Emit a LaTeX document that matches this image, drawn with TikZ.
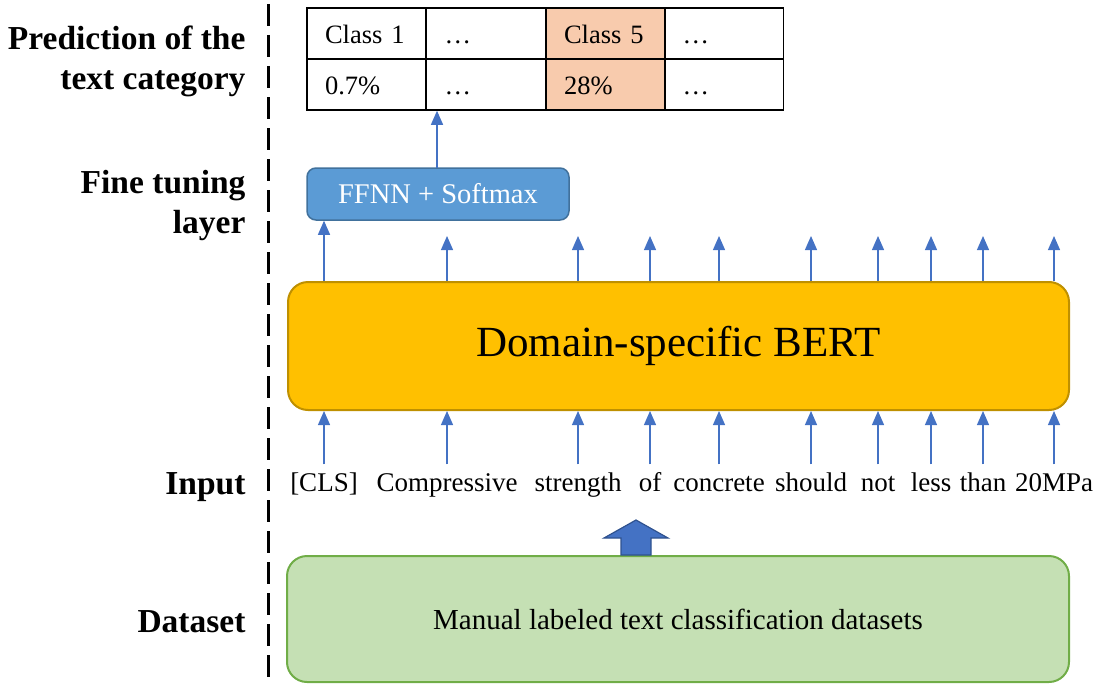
\documentclass[tikz,border=0pt]{standalone}
\usepackage{fontspec}
\setmainfont{Liberation Serif}
\usetikzlibrary{arrows.meta}
\definecolor{arrblue}{HTML}{4472C4}
\definecolor{arrdark}{HTML}{2F528F}
\definecolor{ffnnfill}{HTML}{5B9BD5}
\definecolor{ffnndraw}{HTML}{41719C}
\definecolor{bertfill}{HTML}{FFC000}
\definecolor{bertdraw}{HTML}{BF9000}
\definecolor{datafill}{HTML}{C5E0B4}
\definecolor{datadraw}{HTML}{70AD47}
\definecolor{peach}{HTML}{F8CBAD}
\tikzset{
  cell/.style={draw, line width=1.5pt, minimum width=119pt, minimum height=51pt,
    text width=83pt, text height=22pt, text depth=2pt, align=left, inner xsep=18pt,
    font=\fontsize{26.5}{30}\selectfont},
  lab/.style={align=right, anchor=east, font=\fontsize{33.5}{40}\selectfont\bfseries},
  tok/.style={inner sep=0pt, text height=19pt, text depth=6pt, font=\fontsize{27}{30}\selectfont},
  tokarrow/.style={arrblue, line width=1.2pt, -{Triangle[width=12pt,length=14pt]}},
}
\begin{document}
\begin{tikzpicture}[x=1pt,y=-1pt]
		\useasboundingbox (0,0) rectangle (1108,685);
		\draw[line width=3pt, dash pattern=on 22pt off 9pt] (268,4) -- (268,685);
		% labels on the left
		\node[lab] (lpred) at (249,61) {Prediction of the\\text category};
		\node[lab] (lfine) at (249,205) {Fine tuning\\layer};
		\node[lab] (linput) at (249,487) {Input};
		\node[lab] (ldata) at (249,622) {Dataset};
		% output table
		\node[cell] (c11) at (366.5,33.5) {Class 1};
		\node[cell] (c12) at (486,33.5) {…};
		\node[cell, fill=peach] (c13) at (605.5,33.5) {Class 5};
		\node[cell] (c14) at (724,33.5) {…};
		\node[cell] (c21) at (366.5,84.5) {0.7\%};
		\node[cell] (c22) at (486,84.5) {…};
		\node[cell, fill=peach] (c23) at (605.5,84.5) {28\%};
		\node[cell] (c24) at (724,84.5) {…};
		% boxes
		\node[draw=ffnndraw, fill=ffnnfill, line width=1.5pt, rounded corners=9pt, minimum width=262pt,
			minimum height=52pt, text=white, font=\fontsize{28.5}{30}\selectfont] (ffnn) at (438,194) {FFNN + Softmax};
		\node[draw=bertdraw, fill=bertfill, line width=2pt, rounded corners=20pt, minimum width=781pt,
			minimum height=128pt, font=\fontsize{43}{48}\selectfont] (bert) at (678.5,346) {Domain-specific BERT};
		\node[draw=datadraw, fill=datafill, line width=2pt, rounded corners=20pt, minimum width=782pt,
			minimum height=126pt, font=\fontsize{29}{32}\selectfont] (data) at (678,619) {Manual labeled text classification datasets};
		\coordinate (up) at (437,168);
		\draw[tokarrow] (up) -- (up |- c22.south);
		% tokens
		\node[tok] (t1) at (324,485) {[CLS]};
		\node[tok] (t2) at (447,485) {Compressive};
		\node[tok] (t3) at (578,485) {strength};
		\node[tok] (t4) at (650,485) {of};
		\node[tok] (t5) at (719,485) {concrete};
		\node[tok] (t6) at (811,485) {should};
		\node[tok] (t7) at (878,485) {not};
		\node[tok] (t8) at (931,485) {less};
		\node[tok] (t9) at (983,485) {than};
		\node[tok] (t10) at (1054,485) {20MPa};
		\foreach \i in {1,...,10}{
			\draw[tokarrow, shorten <=8pt] (t\i.north) -- (t\i.north |- bert.south);
		}
		\draw[tokarrow] (t1.north |- bert.north) -- (t1.north |- ffnn.south);
		\foreach \i in {2,...,10}{
			\coordinate (o\i) at (t\i.north |- 0,236);
			\draw[tokarrow] (t\i.north |- bert.north) -- (o\i);
		}
		% block arrow from the dataset
		\draw[arrdark, fill=arrblue, line width=1.2pt] (data.north -| 621,0) -- (621,538) -- (604,538) -- (636,520)
			-- (668,538) -- (651,538) -- (data.north -| 651,0) -- cycle;
	\end{tikzpicture}
\end{document}
